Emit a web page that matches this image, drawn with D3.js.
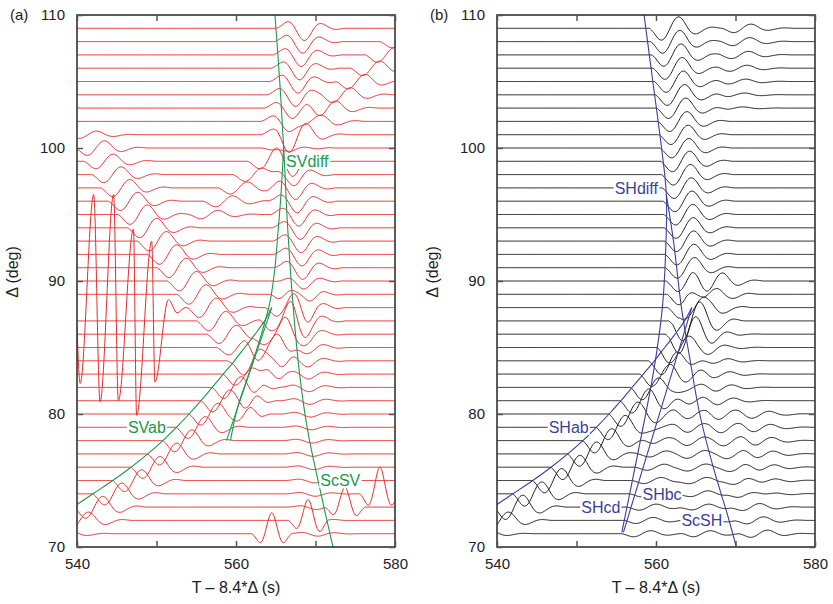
<!DOCTYPE html>
<html>
<head>
<meta charset="utf-8">
<script src="https://cdn.jsdelivr.net/npm/d3@7"></script>
<style>
  body { margin: 0; background: #fff; }
  svg { display: block; font-family: 'Liberation Sans', Arial, sans-serif; }
</style>
</head>
<body>
<svg id="chart" width="833" height="604"></svg>
<script>
// epicentral distance of every trace (deg)
const deltas = [71, 72, 73, 74, 75, 76, 77, 78, 79, 80, 81, 82, 83, 84, 85, 86, 87, 88, 89, 90,
    91, 92, 93, 94, 95, 96, 97, 98, 99, 100, 101, 102, 103, 104, 105, 106, 107, 108, 109]

const xTicks = [540, 550, 560, 570, 580]
const xLabels = [540, 560, 580]
const yTicks = [70, 80, 90, 100, 110]

// wavelet shapes, one sample every 0.5 s after the onset
const wStep = 0.5
const shWavelet = [0, -0.3, -0.8, -1.0, -0.75, -0.1, 0.6, 0.95, 0.85, 0.35, -0.2, -0.45, -0.45, -0.25, -0.05, 0.08, 0.1, 0.05, 0]
const svWavelet = [0, 0.15, 0.4, 0.55, 0.35, -0.2, -0.75, -1.0, -0.75, -0.2, 0.25, 0.4, 0.3, 0.1, -0.05, -0.1, -0.05, 0]
const rickerWavelet = [0, -0.15, -0.45, -0.2, 0.5, 1.0, 0.5, -0.2, -0.45, -0.15, 0]

// ---- panel (b), SH: arrivals ----
const shMainDist = deltas
const shMainOnset = [563.2, 563.1, 563.0, 562.9, 562.8, 562.7, 562.6, 562.5, 562.4, 562.3, 562.2, 562.1, 562.0, 561.9, 561.8, 561.7, 561.6, 561.5, 561.4, 561.3,
    561.2, 561.15, 561.1, 561.05, 561.0, 560.9, 560.8, 560.7, 560.6, 560.5, 560.4, 560.25, 560.1, 559.95, 559.8, 559.65, 559.5, 559.35, 559.2]
const shMainAmp = [0.25, 0.25, 0.25, 0.25, 0.26, 0.26, 0.27, 0.28, 0.29, 0.3, 0.32, 0.35, 0.4, 0.45, 0.55, 0.7, 0.8, 0.85, 0.85, 0.85,
    0.85, 0.85, 0.85, 0.85, 0.85, 0.85, 0.85, 0.85, 0.85, 0.8, 0.8, 0.82, 0.84, 0.86, 0.88, 0.9, 0.92, 0.94, 0.96]

const shLateDist = [103, 104, 105, 106, 107, 108, 109]
const shLateOnset = [567.3, 567.5, 567.65, 567.8, 568.0, 568.15, 568.3]
const shLateAmp = [0.1, 0.15, 0.2, 0.25, 0.3, 0.33, 0.35]

const abDist = [71, 72, 73, 74, 75, 76, 77, 78, 79, 80, 81, 82, 83, 84, 85, 86, 87, 88, 89, 90]
const shAbOnset = [535.5, 537.8, 539.6, 542.0, 544.5, 546.8, 548.9, 550.8, 552.5, 554.1, 555.5, 556.8, 558.0, 559.1, 560.2, 561.2, 562.1, 563.0, 563.8, 564.5]
const shAbAmp = [0.3, 0.7, 1.0, 1.0, 1.0, 1.0, 1.0, 1.0, 1.0, 1.0, 1.0, 1.0, 1.0, 1.0, 1.0, 0.95, 0.9, 0.9, 0.85, 0.75]

const shCdDist = [71, 72, 73, 74, 75, 76, 77, 78, 79, 80, 81, 82, 83, 84, 85]
const shCdOnset = [555.7, 556.0, 556.4, 556.7, 557.0, 557.4, 557.7, 558.0, 558.4, 558.7, 559.1, 559.4, 559.7, 560.0, 560.2]
const shCdAmp = [0.25, 0.25, 0.25, 0.25, 0.25, 0.25, 0.25, 0.25, 0.25, 0.25, 0.25, 0.25, 0.25, 0.25, 0.25]

const scsDist = [71, 72, 73, 74, 75, 76, 77, 78, 79, 80, 81, 82, 83, 84, 85, 86]
const shScsOnset = [570.4, 569.9, 569.4, 568.9, 568.4, 568.0, 567.6, 567.1, 566.7, 566.3, 566.0, 565.7, 565.4, 565.1, 564.8, 564.5]
const shScsAmp = [0.3, 0.3, 0.3, 0.3, 0.3, 0.3, 0.3, 0.3, 0.3, 0.3, 0.2, 0.2, 0.2, 0.2, 0.2, 0.2]

const shTailDist = [74, 75, 76, 77, 78, 79, 80]
const shTailOnset = [571.2, 571.1, 571.0, 570.9, 570.8, 570.7, 570.6]
const shTailAmp = [0.2, 0.22, 0.25, 0.25, 0.25, 0.22, 0.2]

// ---- panel (a), SV ----
const svMainDist = deltas
const svMainOnset = [566.8, 566.7, 566.6, 566.5, 566.4, 566.3, 566.2, 566.1, 566.0, 565.9, 565.8, 565.7, 565.6, 565.5, 565.45, 565.4, 565.3, 565.2, 565.1, 565.0,
    564.9, 564.8, 564.7, 564.6, 564.4, 564.2, 564.0, 563.8, 563.6, 563.4, 563.2, 563.2, 563.6, 564.0, 564.3, 564.5, 564.7, 564.9, 565.1]
const svMainAmp = [0.2, 0.2, 0.2, 0.2, 0.2, 0.2, 0.2, 0.2, 0.2, 0.25, 0.3, 0.35, 0.4, 0.5, 0.6, 0.7, 0.8, 0.85, 0.95, 0.95,
    0.95, 0.95, 0.95, 0.95, 0.95, 0.95, 0.95, 0.95, 0.95, 0.85, 0.85, 0.85, 0.85, 0.95, 0.95, 0.95, 0.95, 0.95, 1.0]

const svCrossDist = [95, 96, 97, 98, 99, 100, 101, 102, 103, 104, 105, 106, 107, 108]
const svCrossOnset = [554.1, 555.95, 557.8, 559.65, 561.5, 563.35, 565.2, 567.05, 568.9, 570.75, 572.6, 574.45, 576.3, 578.15]
const svCrossAmp = [0.35, 0.45, 0.5, 0.55, 0.6, 0.6, 0.6, 0.6, 0.6, 0.6, 0.6, 0.6, 0.6, 0.5]

const svSksDist = [83, 84, 85, 86, 87, 88, 89, 90, 91, 92, 93, 94, 95, 96, 97, 98, 99, 100, 101]
const svSksOnset = [560.1, 558.9, 557.6, 556.4, 555.1, 553.9, 552.6, 551.4, 550.1, 548.9, 547.6, 546.4, 545.2, 544.0, 543.0, 541.9, 540.9, 539.8, 538.8]
const svSksAmp = [0.35, 0.5, 0.6, 0.75, 0.8, 0.8, 0.8, 0.8, 0.8, 0.8, 0.8, 0.8, 0.8, 0.75, 0.7, 0.65, 0.6, 0.6, 0.3]

const svAbOnset = [535.5, 537.8, 539.6, 542.0, 544.5, 546.8, 548.9, 550.8, 552.5, 554.1, 555.6, 557.0, 558.4, 559.8, 561.1, 562.2, 563.0, 563.7, 564.3, 564.8]
const svAbAmp = [0.3, 0.7, 0.9, 0.9, 0.9, 0.9, 0.9, 0.9, 0.9, 0.9, 0.9, 0.9, 0.9, 0.9, 0.9, 0.85, 0.8, 0.7, 0.5, 0.3]

const svPostDist = [80, 81, 82, 83, 84, 85, 86, 87, 88, 89]
const svPostOnset = [559.3, 560.0, 560.8, 561.55, 562.3, 563.05, 563.8, 564.55, 565.3, 566.05]
const svPostAmp = [0.5, 0.5, 0.5, 0.5, 0.5, 0.5, 0.5, 0.5, 0.5, 0.4]

const svLowDist = [71, 72, 73, 74]
const svLowOnset = [562.0, 566.6, 571.2, 575.6]
const svLowAmp = [1.9, 1.9, 1.8, 2.4]

// the one trace with the very large low-period swings, given by its turning points [t, deg]
const svBigDelta = 88
const svBigPoints = [[540, 86.5], [540.4, 82.3], [542.1, 96.5], [542.9, 80.9], [544.6, 96.5], [545.2, 81.0], [547.1, 93.9],
    [547.5, 79.9], [549.4, 93.0], [549.8, 82.4], [551.5, 88.6], [552.6, 87.6], [553.6, 88]]

// ---- travel-time curves [t, deg] ----
const svDiffCurve = [[564.9, 110], [565.5, 105], [566.0, 100], [566.5, 94], [567.2, 88], [568.0, 83], [569.0, 78.8], [570.5, 74.5], [572.2, 70]]
const svCdCurve = [[566.0, 100], [565.6, 96], [565.3, 93.8], [564.9, 91], [564.3, 88.5], [563.2, 86], [561.6, 83], [560.2, 80.5], [559.3, 78]]
const svBcCurve = [[564.5, 88], [558.8, 78]]
const abCurve = [[540, 73.2], [542, 74], [544.5, 75], [546.8, 76], [548.9, 77], [550.8, 78], [552.5, 79], [554.1, 80], [555.6, 81],
    [557.0, 82], [558.4, 83], [559.8, 84], [561.1, 85], [562.4, 86], [563.6, 87], [564.5, 88]]
const shDiffCurve = [[558.5, 110], [559.6, 105], [560.7, 100], [561.3, 96.5], [561.2, 92], [560.8, 88], [559.7, 83.2], [557.7, 77], [555.7, 71.1]]
const shScsCurve = [[561.3, 96.5], [562.2, 93], [563.2, 88], [564.3, 84], [565.5, 80], [567.2, 76], [569.1, 72.2], [570.1, 70]]
const shBcCurve = [[564.5, 88], [555.9, 71.1]]

// phase labels: text, start time, trace
const svLabels = [['SVdiff', 566.3, 99], ['SVab', 546.4, 79], ['ScSV', 570.6, 75]]
const shLabels = [['SHdiff', 554.8, 97], ['SHab', 546.5, 79], ['SHbc', 558.3, 74], ['SHcd', 550.6, 73], ['ScSH', 563.2, 72]]

// --------------------------------------------------------------------------
const svg = d3.select('#chart')
const plotTop = 15, plotBottom = 547, plotWidth = 318

function phase(dist, onset, amp, wavelet) {
    const f = d3.interpolateBasis(wavelet)
    const dur = (wavelet.length - 1) * wStep
    return { dist, onset, amp, f, dur }
}

const svPhases = [
    phase(svMainDist, svMainOnset, svMainAmp, svWavelet),
    phase(svCrossDist, svCrossOnset, svCrossAmp, shWavelet),
    phase(svSksDist, svSksOnset, svSksAmp, shWavelet),
    phase(abDist, svAbOnset, svAbAmp, shWavelet),
    phase(svPostDist, svPostOnset, svPostAmp, rickerWavelet),
    phase(svLowDist, svLowOnset, svLowAmp, rickerWavelet)
]
const shPhases = [
    phase(shMainDist, shMainOnset, shMainAmp, shWavelet),
    phase(shLateDist, shLateOnset, shLateAmp, shWavelet),
    phase(abDist, shAbOnset, shAbAmp, shWavelet),
    phase(shCdDist, shCdOnset, shCdAmp, shWavelet),
    phase(scsDist, shScsOnset, shScsAmp, shWavelet),
    phase(shTailDist, shTailOnset, shTailAmp, shWavelet)
]

const panels = [
    { name: '(a)', left: 77, color: '#e52d2c', lineColor: '#1a9a4c', phases: svPhases, labels: svLabels,
      curves: [svDiffCurve, svCdCurve, svBcCurve, abCurve], big: true },
    { name: '(b)', left: 497, color: '#1b1b1b', lineColor: '#3b3f9c', phases: shPhases, labels: shLabels,
      curves: [shDiffCurve, shScsCurve, shBcCurve, abCurve], big: false }
]

const times = d3.range(540, 580.001, 0.1)

panels.forEach((p, pi) => {
    const x = d3.scaleLinear().domain([540, 580]).range([p.left, p.left + plotWidth])
    const y = d3.scaleLinear().domain([70, 110]).range([plotBottom, plotTop])
    const g = svg.append('g')

    // clip traces and curves to the frame
    const clipId = 'clip' + pi
    svg.append('clipPath').attr('id', clipId)
        .append('rect').attr('x', p.left).attr('y', plotTop).attr('width', plotWidth).attr('height', plotBottom - plotTop)
    const plot = g.append('g').attr('clip-path', `url(#${clipId})`)

    // build every trace from its arrivals
    const traces = deltas.map((d) => {
        let pts = times.map((t) => {
            let v = 0
            p.phases.forEach((ph) => {
                const k = ph.dist.indexOf(d)
                if (k < 0) return
                const tau = t - ph.onset[k]
                if (tau > 0 && tau < ph.dur) v += ph.amp[k] * ph.f(tau / ph.dur)
            })
            return [t, d + v]
        })
        if (p.big && d === svBigDelta) {
            const t1 = svBigPoints[svBigPoints.length - 1][0]
            pts = svBigPoints.concat(pts.filter((q) => q[0] > t1 + 0.3))
        }
        return pts
    })

    const traceLine = d3.line().x((q) => x(q[0])).y((q) => y(q[1])).curve(d3.curveMonotoneX)
    plot.selectAll('.trace').data(traces).enter()
        .append('path')
        .attr('class', 'trace')
        .attr('d', traceLine)
        .attr('fill', 'none')
        .attr('stroke', p.color)
        .attr('stroke-width', 1)

    // travel-time curves
    const curveLine = d3.line().x((q) => x(q[0])).y((q) => y(q[1])).curve(d3.curveCatmullRom)
    plot.selectAll('.curve').data(p.curves).enter()
        .append('path')
        .attr('class', 'curve')
        .attr('d', curveLine)
        .attr('fill', 'none')
        .attr('stroke', p.lineColor)
        .attr('stroke-width', 1.1)

    // phase labels on a white box
    p.labels.forEach((l) => {
        const lg = g.append('g')
        const txt = lg.append('text')
            .attr('x', x(l[1]))
            .attr('y', y(l[2]))
            .attr('dy', '0.36em')
            .attr('font-size', '16px')
            .attr('fill', p.lineColor)
            .text(l[0])
        const b = txt.node().getBBox()
        lg.insert('rect', 'text')
            .attr('x', b.x - 1).attr('y', b.y + 1)
            .attr('width', b.width + 2).attr('height', b.height - 2)
            .attr('fill', 'white')
    })

    // frame
    g.append('rect')
        .attr('x', p.left).attr('y', plotTop).attr('width', plotWidth).attr('height', plotBottom - plotTop)
        .attr('fill', 'none').attr('stroke', '#333').attr('stroke-width', 1.6)

    // axes with inward ticks
    const fmt = (v) => (xLabels.includes(v) ? v : '')
    const axes = [
        g.append('g').attr('transform', `translate(0,${plotBottom})`)
            .call(d3.axisBottom(x).tickValues(xTicks).tickFormat(fmt).tickSizeInner(-6).tickSizeOuter(0).tickPadding(11)),
        g.append('g').attr('transform', `translate(0,${plotTop})`)
            .call(d3.axisTop(x).tickValues(xTicks).tickFormat('').tickSizeInner(-6).tickSizeOuter(0)),
        g.append('g').attr('transform', `translate(${p.left},0)`)
            .call(d3.axisLeft(y).tickValues(yTicks).tickSizeInner(-6).tickSizeOuter(0).tickPadding(12)),
        g.append('g').attr('transform', `translate(${p.left + plotWidth},0)`)
            .call(d3.axisRight(y).tickValues(yTicks).tickFormat('').tickSizeInner(-6).tickSizeOuter(0))
    ]
    axes.forEach((a) => {
        a.select('.domain').remove()
        a.selectAll('line').attr('stroke', '#555').attr('stroke-width', 1.5)
        a.selectAll('text').attr('font-size', '15px').attr('fill', '#222')
            .attr('font-family', "'Liberation Sans', Arial, sans-serif")
    })

    // titles
    g.append('text')
        .attr('x', p.left + plotWidth / 2).attr('y', 593)
        .attr('text-anchor', 'middle')
        .attr('font-size', '16px').attr('fill', '#222')
        .text('T \u2013 8.4*\u0394 (s)')
    g.append('text')
        .attr('transform', `translate(${p.left - 59},272) rotate(-90)`)
        .attr('text-anchor', 'middle')
        .attr('font-size', '16px').attr('fill', '#222')
        .text('\u0394 (deg)')
    g.append('text')
        .attr('x', p.left - 67).attr('y', 20)
        .attr('font-size', '15px').attr('fill', '#222')
        .text(p.name)
})
</script>
</body>
</html>
